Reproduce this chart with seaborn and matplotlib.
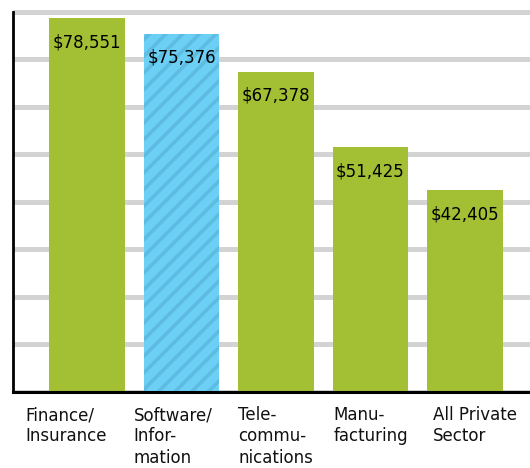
import matplotlib
matplotlib.use("Agg")
import matplotlib.pyplot as plt
import matplotlib.transforms as mtransforms
import seaborn as sns

categories = ["Finance/\nInsurance", "Software/\nInfor-\nmation", "Tele-\ncommu-\nnications",
              "Manu-\nfacturing", "All Private\nSector"]
salaries = [78551, 75376, 67378, 51425, 42405]
value_labels = ["$78,551", "$75,376", "$67,378", "$51,425", "$42,405"]
bar_colors = ["#a3c035", "#6ccff6", "#a3c035", "#a3c035", "#a3c035"]
grid_ticks = list(range(0, 80001, 10000))
# small horizontal nudges (px) so the category labels sit like the original
label_dx = [-24, -10, 0, 1, 6]

sns.set_theme(style="white")
plt.rcParams["font.family"] = ["DejaVu Sans"]
plt.rcParams["hatch.linewidth"] = 2.6

fig = plt.figure(figsize=(5.30, 4.68), dpi=100)
ax = fig.add_axes([13 / 530, 76 / 468, 517 / 530, 390 / 468])

sns.barplot(x=list(range(len(salaries))), y=salaries, hue=list(range(len(salaries))),
            palette=bar_colors, legend=False, width=0.8, saturation=1,
            linewidth=0, ax=ax, zorder=2)

# striped bar for software/information
stripe = ax.patches[1]
stripe.set_hatch("//")
stripe.set_edgecolor("#5ebce1")
stripe.set_linewidth(0)

ax.set_xlim(-0.783, 4.688)
ax.set_ylim(0, 82000)
ax.set_yticks(grid_ticks)
ax.set_yticklabels([])
ax.set_xticks([])
ax.tick_params(length=0)
ax.yaxis.grid(True, color="#d3d3d3", linewidth=3.6)
ax.xaxis.grid(False)
ax.set_axisbelow(True)

for side in ["top", "right"]:
    ax.spines[side].set_visible(False)
ax.spines["left"].set_color("black")
ax.spines["left"].set_linewidth(2)
ax.spines["left"].set_bounds(0, 80000)
ax.spines["bottom"].set_color("black")
ax.spines["bottom"].set_linewidth(2.2)

for i, (v, txt) in enumerate(zip(salaries, value_labels)):
    ax.annotate(txt, xy=(i, v), xytext=(0, -15), textcoords="offset pixels",
                ha="center", va="top", fontsize=12, color="black")

blend = mtransforms.blended_transform_factory(ax.transData, ax.transAxes)
for i, (lab, dx) in enumerate(zip(categories, label_dx)):
    off = mtransforms.ScaledTranslation(dx / 100, -14 / 100, fig.dpi_scale_trans)
    ax.text(i - 0.4, 0, lab, transform=blend + off, ha="left", va="top",
            fontsize=12, linespacing=1.24, color="#111111")

fig.savefig("out.png", dpi=100)
